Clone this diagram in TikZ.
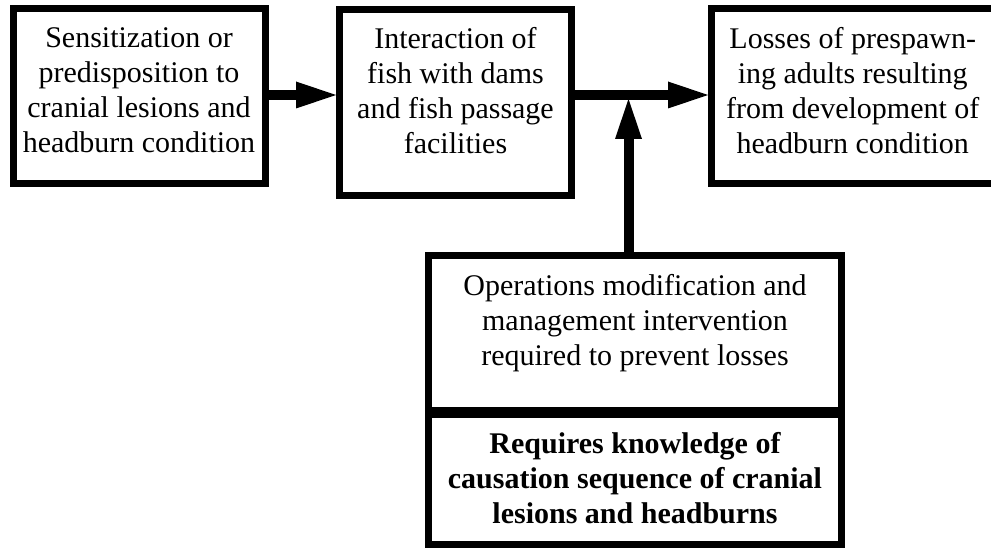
\documentclass[tikz,border=0pt]{standalone}
\usepackage{fontspec}
\setmainfont{Liberation Serif}
\usetikzlibrary{arrows.meta,positioning}

\begin{document}
\begin{tikzpicture}[x=1pt, y=1pt, every node/.style={font=\fontsize{30}{35}\selectfont}, frame/.style={draw, line width=7pt, inner sep=0pt}, txt/.style={align=center, inner sep=0pt}, arrow/.style={-{Triangle[length=40pt, width=27pt, line width=0pt]}, line width=10pt}]
\useasboundingbox (0,0) rectangle (991,-548);
% top row
\node[frame, minimum width=252pt, minimum height=174.5pt] (sens) at (139,-96.25) {};
\node[frame, minimum width=232pt, minimum height=185.5pt] (inter) at (455.5,-102.3) {};
\node[frame, minimum width=282.5pt, minimum height=174.5pt] (loss) at (852.75,-96.25) {};
\node[txt, below=21.5pt of sens.north] (senstxt) {Sensitization or\\predisposition to\\cranial lesions and\\headburn condition};
\node[txt, below=21.5pt of inter.north] (intertxt) {Interaction of\\fish with dams\\and fish passage\\facilities};
\node[txt, below=21.5pt of loss.north] (losstxt) {Losses of prespawn-\\ing adults resulting\\from development of\\headburn condition};
% lower pair
\node[frame, minimum width=413pt, minimum height=154.5pt] (ops) at (635,-333.25) {};
\node[frame, minimum width=413pt, minimum height=130pt] (know) at (635,-479.5) {};
\node[txt, below=21.5pt of ops.north] (opstxt) {Operations modification and\\management intervention\\required to prevent losses};
\node[txt, below=21.5pt of know.north, font=\fontsize{30}{35}\selectfont\bfseries] (knowtxt) {Requires knowledge of\\causation sequence of cranial\\lesions and headburns};
% connectors
\coordinate (join) at (628.5,-99);
\draw[arrow] ([yshift=1.25pt]sens.east) -- ([yshift=1.25pt]sens.east -| inter.west);
\draw[arrow] ([yshift=7.3pt]inter.east) -- ([yshift=7.3pt]inter.east -| loss.west);
\draw[arrow] (ops.north -| join) -- (join);
\end{tikzpicture}
\end{document}
